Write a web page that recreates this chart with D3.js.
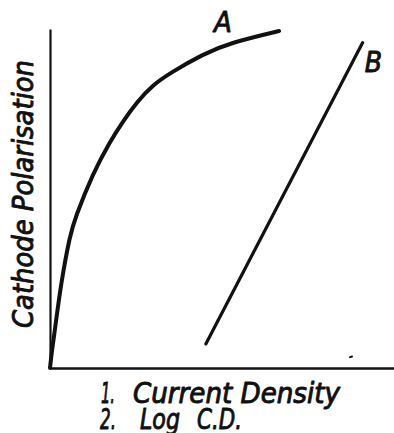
<!DOCTYPE html>
<html>
<head>
<meta charset="utf-8">
<script src="https://cdn.jsdelivr.net/npm/d3@7"></script>
<style>
  html, body { margin: 0; padding: 0; background: #fff; }
  svg { display: block; }
  text { font-family: "DejaVu Sans Condensed", "DejaVu Sans", sans-serif; font-style: oblique;
         fill: #111; stroke: #111; stroke-width: 0.9; stroke-linejoin: round; }
</style>
</head>
<body>
<script>
// Curve A: polarisation against current density (rises steeply, then levels off)
const curveAX = [0, 0.58, 1.31, 3.2, 5.81, 7.27, 12.5, 17.4, 20.9, 25.3, 29.9, 34.9, 44.5, 52.3, 66.6];
const curveAY = [0, 5.3, 10.3, 25.1, 39.2, 44.2, 57.5, 66.7, 72.3, 78.5, 83.5, 87.0, 92.6, 95.9, 99.4];
// Line B: polarisation against log current density (straight line)
const lineBX = [45.3, 90.9];
const lineBY = [7.1, 96.0];
// Curve names
const seriesNames = ["A", "B"];
const yTitle = "Cathode Polarisation";
const xTitleLines = [["1.", "Current Density"], ["2.", "Log", "C.D."]];

const W = 394, H = 433;
const svg = d3.select("body").append("svg").attr("width", W).attr("height", H);

const x = d3.scaleLinear().domain([0, 100]).range([50, 394]);
const y = d3.scaleLinear().domain([0, 100]).range([368, 29]);

// Axes: plain lines, no ticks
const xAxis = svg.append("g").attr("transform", `translate(0,${y(0)})`)
  .call(d3.axisBottom(x).ticks(0).tickSizeOuter(0));
xAxis.select(".domain").attr("stroke", "#111").attr("stroke-width", 2.6);
const yAxis = svg.append("g").attr("transform", `translate(${x(0)},0)`)
  .call(d3.axisLeft(y).ticks(0).tickSizeOuter(0));
yAxis.select(".domain").attr("stroke", "#111").attr("stroke-width", 2.2);

const line = d3.line().x(d => x(d[0])).y(d => y(d[1]));

// Curve A, smoothed through the read points
const ptsA = curveAX.map((v, i) => [v, curveAY[i]]);
svg.append("path")
  .attr("d", line.curve(d3.curveBasis)(ptsA))
  .attr("fill", "none").attr("stroke", "#111").attr("stroke-width", 4)
  .attr("stroke-linecap", "round").attr("stroke-linejoin", "round");

// Line B
const ptsB = lineBX.map((v, i) => [v, lineBY[i]]);
svg.append("path")
  .attr("d", line.curve(d3.curveLinear)(ptsB))
  .attr("fill", "none").attr("stroke", "#111").attr("stroke-width", 3.2)
  .attr("stroke-linecap", "round");

// Series labels placed near the ends of each curve
const endA = ptsA[ptsA.length - 1];
svg.append("text").text(seriesNames[0])
  .attr("x", x(endA[0]) - 65).attr("y", y(endA[1]) + 1)
  .attr("font-size", 29);
const endB = ptsB[1];
svg.append("text").text(seriesNames[1])
  .attr("x", x(endB[0]) + 2).attr("y", y(endB[1]) + 29)
  .attr("font-size", 28);

// Y title
svg.append("text").text(yTitle)
  .attr("transform", "translate(33,328) rotate(-90)")
  .attr("font-size", 29)
  .attr("textLength", 268).attr("lengthAdjust", "spacingAndGlyphs");

// X title, two numbered lines
const xt = svg.append("g");
const addText = (s, px, py, len) => xt.append("text").text(s)
  .attr("x", px).attr("y", py).attr("font-size", 28)
  .attr("textLength", len).attr("lengthAdjust", "spacingAndGlyphs");
addText(xTitleLines[0][0], 101, 403, 14);
addText(xTitleLines[0][1], 133, 403, 207);
addText(xTitleLines[1][0], 100, 429, 16);
addText(xTitleLines[1][1], 140, 429, 40);
addText(xTitleLines[1][2], 197, 429, 45);

// small stray ink mark near the x axis
svg.append("line").attr("x1", x(87.2)).attr("x2", x(87.8)).attr("y1", y(3.2)).attr("y2", y(3.4))
  .attr("stroke", "#111").attr("stroke-width", 2).attr("stroke-linecap", "round");
</script>
</body>
</html>
